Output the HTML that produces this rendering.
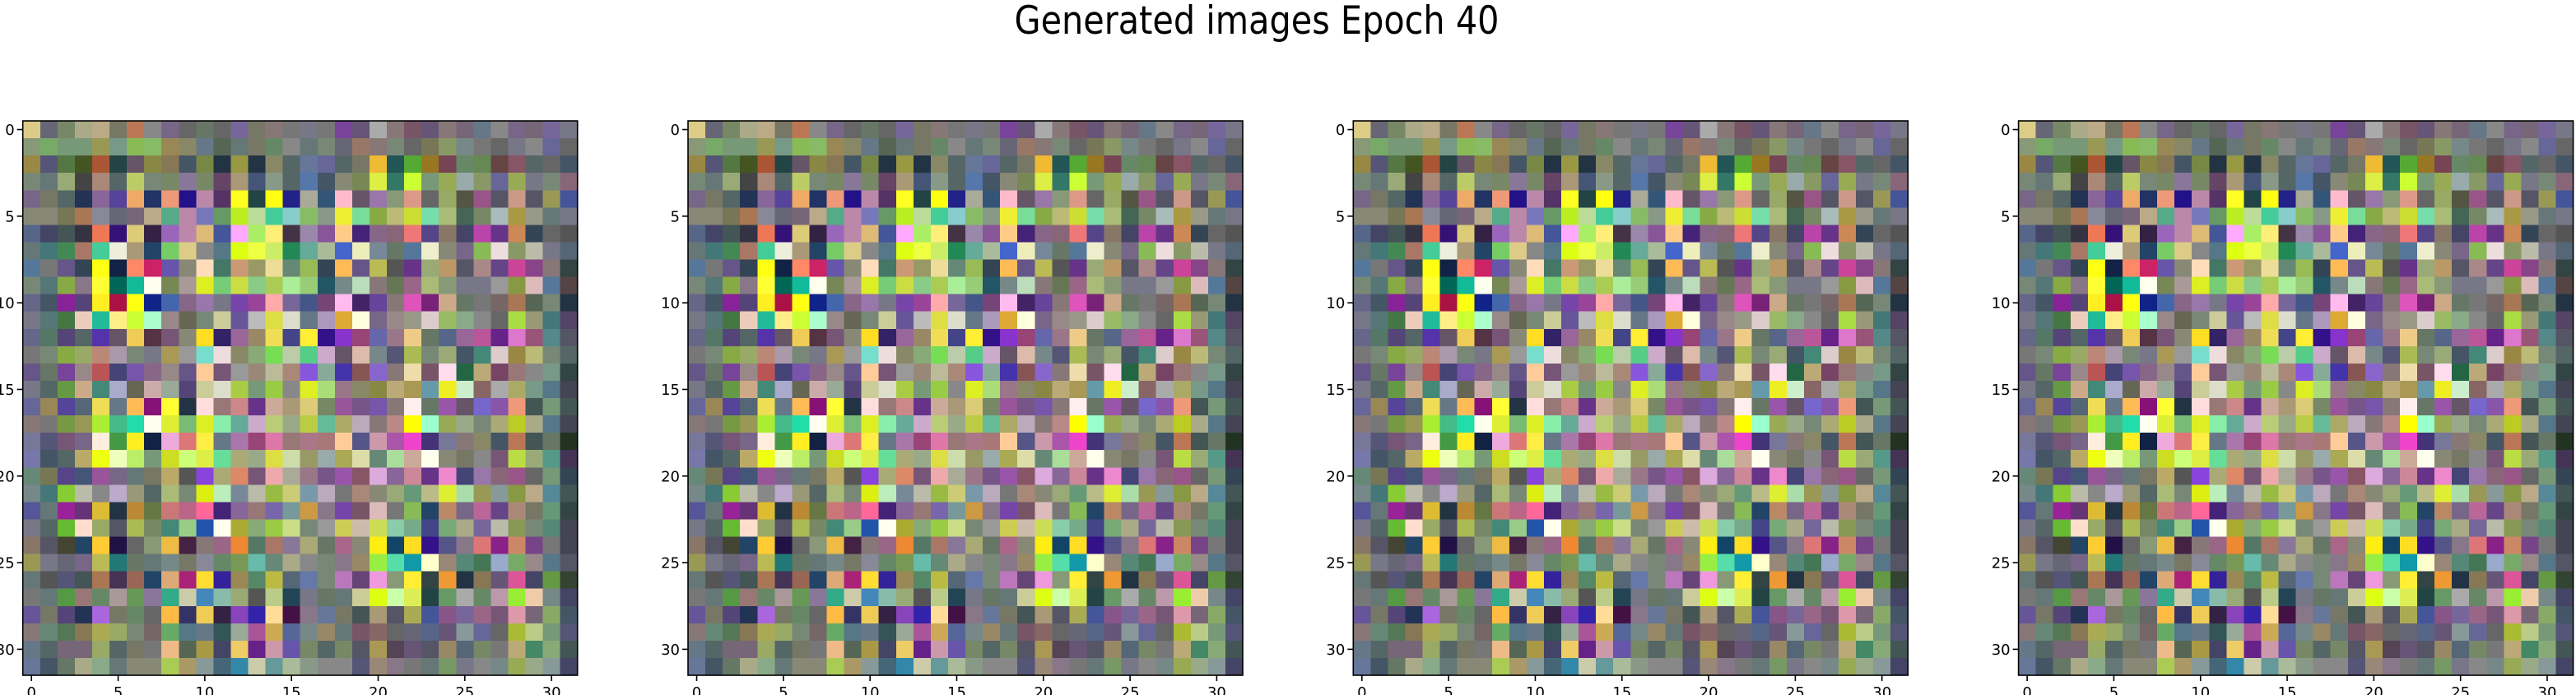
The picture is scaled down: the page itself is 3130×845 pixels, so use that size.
<!DOCTYPE html>
<html><head><meta charset="utf-8"><style>
html,body{margin:0;padding:0;background:#fff;width:3130px;height:845px;overflow:hidden}
svg text{font-family:"DejaVu Sans","Liberation Sans",sans-serif;fill:#000}
</style></head><body>
<svg id="fig" width="3130" height="845" viewBox="0 0 3130 845" xmlns="http://www.w3.org/2000/svg">
<text x="1527" y="41" font-size="47" text-anchor="middle" textLength="589" lengthAdjust="spacingAndGlyphs">Generated images Epoch 40</text>
</svg>
<script>
const panelTitles = ["image-1","image-2","image-3","image-4"];
const tickValues = [0,5,10,15,20,25,30];
const tickLabels = ["0","5","10","15","20","25","30"];
const cells = [
"dc8 667 786 aa8 ba8 776 b75 888 768 666 676 666 769 776 877 777 778 777 749 657 aaa 877 756 657 877 767 678 888 768 767 769 778",
"897 7a6 797 797 995 798 8b5 8b6 985 886 678 565 677 776 686 888 677 787 667 976 877 787 666 775 896 788 777 666 778 888 669 666",
"984 557 574 452 a53 244 656 884 875 456 784 234 994 234 886 566 679 669 566 776 eb3 255 5a3 972 745 686 685 644 856 566 666 456",
"787 677 9a7 444 a87 566 bc6 787 786 879 786 646 a97 457 898 566 57a 456 887 785 de4 376 cf3 797 9a5 9aa 896 669 9a5 778 787 867",
"768 776 566 235 869 549 ea6 236 e97 218 b8a 536 ff2 244 ff1 228 aa9 357 fbc 656 97a 897 d98 666 9a6 554 958 556 c98 556 995 459",
"887 887 775 a75 889 667 767 ba8 5a8 b8a 77b 696 be2 bd9 4c9 8cc 8b6 898 ee3 7d9 8a4 bb7 cd3 7da ab7 465 786 abb a94 998 677 778",
"568 446 455 334 e75 317 dc7 324 96b b8a db7 459 faf ae6 fe7 434 98a 859 fc8 427 868 867 e77 548 876 446 b4a 638 c85 345 666 555",
"677 477 485 a76 4c9 eed a97 246 7c6 dc8 888 578 df1 ef4 ce6 285 6a9 ab9 46c eeb 789 676 579 eec 887 768 8b5 edd 896 bba 778 567",
"579 777 658 345 ff1 124 f86 c26 65a 887 fdb 476 c97 996 ed9 687 9b5 345 fb5 658 bb5 555 638 9a7 b96 556 a88 648 c49 848 877 344",
"787 577 8a4 878 ff3 065 1b9 ffe 785 a99 de2 7c7 cd4 8c8 ac5 ae9 9c7 256 788 bdb 877 675 968 ab7 897 778 778 999 894 dbb 579 544",
"668 456 829 547 fe2 a14 ff1 128 46a 868 97a 778 74a 949 faa 769 458 747 fbe 426 649 877 d5b 727 ca8 676 777 766 a75 565 787 234",
"778 577 474 ecb 2b9 fe8 cf3 afc 988 665 787 cc9 659 bbb dd4 ddc 678 a9b da3 ffd 768 988 998 dcc 9b6 8a8 888 666 ad4 997 477 546",
"668 576 547 566 53a 656 ec5 534 757 887 fd2 326 969 986 ed5 448 fe3 318 83c 947 66a 978 ec8 676 568 969 b59 628 d7c 957 588 556",
"777 787 8a4 9a6 b87 a9a 787 778 a95 999 7dc edd 886 8a7 7d5 bca 5c8 cac 656 dba 788 557 ab5 787 9a7 456 487 dcc 984 bb7 787 566",
"658 676 749 988 b55 447 75a 868 988 658 fc9 757 999 987 bb9 a87 85d 8a9 43a 855 86c 877 eda 756 fde 264 ba7 746 977 888 798 344",
"778 566 694 ca8 487 aac 665 caa 9a9 547 cc9 ddc ac4 797 9c4 888 de2 ad7 978 886 884 ba7 a95 69a ee2 cec 866 aaa aa6 798 578 445",
"669 985 549 567 ed5 678 fb5 817 ff3 234 fdd 977 c88 638 ca9 a97 dc7 786 959 758 75a 877 fee 676 95a 656 76c 85a e97 455 797 455",
"877 777 794 995 ae3 4b8 2da ffe de3 7b7 de2 8ea 6a9 cac bc7 9a8 bc4 6b9 aa6 bab 877 b88 ff0 9fc 9a5 9a8 787 aa7 bc2 aa8 578 445",
"779 557 757 768 fed 494 fe2 124 ead d77 fe4 678 a7a 947 d7a 977 a78 a77 fc9 558 c9a a5a e4c 437 779 877 886 456 b75 455 676 232",
"77a 456 566 ba6 ef1 efb be6 797 cd2 cf7 de4 6d9 aa7 9a8 dd4 cda 996 9aa aa5 dda 687 ad9 ca9 ffe 887 776 888 757 bd4 9a7 598 435",
"687 775 548 457 959 768 677 776 ba6 555 84d aa7 d86 757 eaa aa9 978 758 95a 856 dad 869 c89 638 e8c 447 97a 867 958 666 797 345",
"788 477 8c3 bba 888 bac 997 566 ab7 787 de1 beb 789 bba 9b4 cc7 79a bab 777 a87 887 9a7 697 bb8 de3 ada 995 899 894 ba8 589 455",
"559 677 929 637 db3 234 b83 674 c77 b68 f69 427 869 977 76a 799 c94 878 74a 756 dbb 777 8b5 246 b86 768 b69 648 a87 776 697 344",
"778 566 6b3 fdc 9a6 556 ab5 786 487 9c8 25a ffe aa3 8a7 9c4 cd8 787 999 cc5 cba cd5 8ca 7a8 448 7a7 aa8 769 bba 895 787 587 445",
"876 556 443 246 fc3 214 666 897 eb4 424 877 968 e83 576 a76 879 aa7 676 a68 887 fe1 146 fd2 318 558 878 d77 828 c86 748 777 445",
"995 778 667 768 bb5 277 676 677 788 776 889 686 795 6ba 687 aa8 888 787 878 986 9e4 5da 19a ffc 987 587 475 9ac 7a6 988 578 556",
"677 555 557 455 a75 435 965 246 da7 a27 fd3 329 985 586 bb4 567 67a 787 b7b 647 e9d 897 fe3 344 e93 234 875 657 d59 446 694 343",
"777 677 594 977 686 a99 695 879 3a8 cca 48b 8ba 9a7 555 bc8 245 778 676 677 cc9 df1 cfa de5 244 696 aaa 686 b9a 9e3 eca 788 446",
"659 776 547 235 a6d 776 686 666 fb4 336 ec5 324 84b 32a fd9 414 878 679 776 455 a97 556 aa5 459 858 769 968 757 d9a 767 8a6 456",
"877 687 575 875 aa5 9a6 787 766 6a6 578 678 355 9a9 a59 ca5 569 788 986 677 756 866 666 667 568 657 899 669 666 ab3 bc8 797 557",
"678 566 767 767 9a6 566 776 777 eb8 565 a94 446 ec6 628 c9a 65a 786 566 786 556 a95 545 657 556 986 567 786 777 ba7 486 8a7 455",
"679 456 676 aa8 8a8 677 887 887 ac5 a96 899 467 38a cca 699 ab9 898 888 888 557 987 878 777 677 796 778 888 788 9a5 9a8 899 446"
];

const NS = "http://www.w3.org/2000/svg";
const svg = document.getElementById("fig");
const N = 32;
const panelLeft0 = 27.7, panelStep = 808.3, axTop = 147, axSize = 674;
const cellSize = axSize / N;

function mk(tag, attrs) {
  const e = document.createElementNS(NS, tag);
  for (const k in attrs) e.setAttribute(k, attrs[k]);
  return e;
}

panelTitles.forEach((pname, p) => {
  const left = panelLeft0 + p * panelStep;
  const xScale = v => left + (v + 0.5) * cellSize;
  const yScale = v => axTop + (v + 0.5) * cellSize;
  const g = mk("g", {});
  
  
  svg.appendChild(g);
  const img = mk("g", {"shape-rendering": "crispEdges"});
  
  
  g.appendChild(img);
  cells.forEach((row, r) => {
    row.split(" ").forEach((c, col) => {
      const x0 = xScale(col) - cellSize / 2, y0 = yScale(r) - cellSize / 2;
      const rect = mk("rect", {x: x0.toFixed(2), y: y0.toFixed(2), width: (cellSize + 0.6).toFixed(2), height: (cellSize + 0.6).toFixed(2), fill: "#" + c});
      
      
      img.appendChild(rect);
    });
  });
  const frame = mk("rect", {x: left, y: axTop, width: axSize, height: axSize, fill: "none", stroke: "#000", "stroke-width": 1.6});
  
  
  g.appendChild(frame);
  tickValues.forEach((v, i) => {
    const tx = xScale(v), ty = yScale(v);
    const xt = mk("line", {x1: tx, x2: tx, y1: axTop + axSize, y2: axTop + axSize + 7, stroke: "#000", "stroke-width": 1.6});
    
    
    g.appendChild(xt);
    const xl = mk("text", {x: tx, y: axTop + axSize + 27, "font-size": 18, "text-anchor": "middle"});
    xl.textContent = tickLabels[i];
    
    
    g.appendChild(xl);
    const yt = mk("line", {x1: left - 7, x2: left, y1: ty, y2: ty, stroke: "#000", "stroke-width": 1.6});
    
    
    g.appendChild(yt);
    const yl = mk("text", {x: left - 10, y: ty + 6.5, "font-size": 18, "text-anchor": "end"});
    yl.textContent = tickLabels[i];
    
    
    g.appendChild(yl);
  });
});
</script>
</body></html>
